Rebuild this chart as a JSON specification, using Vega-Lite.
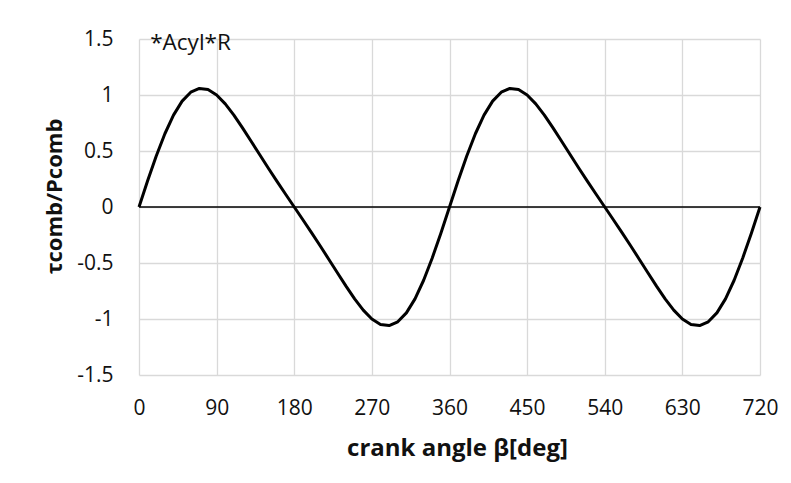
{
  "$schema": "https://vega.github.io/schema/vega-lite/v6.json",
  "width": 621,
  "height": 336,
  "autosize": {"type": "none"},
  "padding": {"left": 139, "top": 39, "right": 31, "bottom": 108},
  "background": "white",
  "config": {"view": {"stroke": null}, "font": "Open Sans"},
  "layer": [
    {
      "data": {"values": [{}]},
      "mark": {"type": "rule", "color": "black", "strokeWidth": 1.5},
      "encoding": {"y": {"datum": 0, "type": "quantitative", "scale": {"domain": [-1.5, 1.5]}}}
    },
    {
      "data": {"values": [
        {"angle": 0, "value": 0}, {"angle": 10, "value": 0.234}, {"angle": 20, "value": 0.455},
        {"angle": 30, "value": 0.654}, {"angle": 40, "value": 0.820}, {"angle": 50, "value": 0.945},
        {"angle": 60, "value": 1.025}, {"angle": 70, "value": 1.059}, {"angle": 80, "value": 1.049},
        {"angle": 90, "value": 1.0}, {"angle": 100, "value": 0.921}, {"angle": 110, "value": 0.821},
        {"angle": 120, "value": 0.707}, {"angle": 130, "value": 0.587}, {"angle": 140, "value": 0.466},
        {"angle": 150, "value": 0.346}, {"angle": 160, "value": 0.229}, {"angle": 170, "value": 0.114},
        {"angle": 180, "value": 0}, {"angle": 190, "value": -0.114}, {"angle": 200, "value": -0.229},
        {"angle": 210, "value": -0.346}, {"angle": 220, "value": -0.466}, {"angle": 230, "value": -0.587},
        {"angle": 240, "value": -0.707}, {"angle": 250, "value": -0.821}, {"angle": 260, "value": -0.921},
        {"angle": 270, "value": -1.0}, {"angle": 280, "value": -1.049}, {"angle": 290, "value": -1.059},
        {"angle": 300, "value": -1.025}, {"angle": 310, "value": -0.945}, {"angle": 320, "value": -0.820},
        {"angle": 330, "value": -0.654}, {"angle": 340, "value": -0.455}, {"angle": 350, "value": -0.234},
        {"angle": 360, "value": 0}, {"angle": 370, "value": 0.234}, {"angle": 380, "value": 0.455},
        {"angle": 390, "value": 0.654}, {"angle": 400, "value": 0.820}, {"angle": 410, "value": 0.945},
        {"angle": 420, "value": 1.025}, {"angle": 430, "value": 1.059}, {"angle": 440, "value": 1.049},
        {"angle": 450, "value": 1.0}, {"angle": 460, "value": 0.921}, {"angle": 470, "value": 0.821},
        {"angle": 480, "value": 0.707}, {"angle": 490, "value": 0.587}, {"angle": 500, "value": 0.466},
        {"angle": 510, "value": 0.346}, {"angle": 520, "value": 0.229}, {"angle": 530, "value": 0.114},
        {"angle": 540, "value": 0}, {"angle": 550, "value": -0.114}, {"angle": 560, "value": -0.229},
        {"angle": 570, "value": -0.346}, {"angle": 580, "value": -0.466}, {"angle": 590, "value": -0.587},
        {"angle": 600, "value": -0.707}, {"angle": 610, "value": -0.821}, {"angle": 620, "value": -0.921},
        {"angle": 630, "value": -1.0}, {"angle": 640, "value": -1.049}, {"angle": 650, "value": -1.059},
        {"angle": 660, "value": -1.025}, {"angle": 670, "value": -0.945}, {"angle": 680, "value": -0.820},
        {"angle": 690, "value": -0.654}, {"angle": 700, "value": -0.455}, {"angle": 710, "value": -0.234},
        {"angle": 720, "value": 0}
      ]},
      "mark": {"type": "line", "color": "black", "strokeWidth": 3, "strokeJoin": "round"},
      "encoding": {
        "x": {
          "field": "angle", "type": "quantitative",
          "scale": {"domain": [0, 720], "nice": false},
          "axis": {
            "values": [0, 90, 180, 270, 360, 450, 540, 630, 720],
            "grid": true, "gridColor": "#d9d9d9", "gridWidth": 1.3,
            "domain": false, "ticks": false, "tickSize": 0,
            "labelFontSize": 21, "labelColor": "#111", "labelPadding": 22,
            "labelFlush": false,
            "title": "crank angle β[deg]", "titleFontSize": 24, "titleFontWeight": "bold",
            "titleColor": "#111", "titleX": 318, "titleAlign": "center", "titleY": 73, "titleBaseline": "middle"
          }
        },
        "y": {
          "field": "value", "type": "quantitative",
          "scale": {"domain": [-1.5, 1.5], "nice": false},
          "axis": {
            "values": [-1.5, -1, -0.5, 0, 0.5, 1, 1.5],
            "labelExpr": "toString(datum.value)",
            "grid": true, "gridColor": "#d9d9d9", "gridWidth": 1.3,
            "domain": false, "ticks": false, "tickSize": 0,
            "labelFontSize": 21, "labelColor": "#111", "labelPadding": 26,
            "labelFlush": false,
            "title": "τcomb/Pcomb", "titleFontSize": 22, "titleFontWeight": "bold",
            "titleColor": "#111", "titleAngle": -90, "titleX": -85, "titleY": 157,
            "titleAlign": "center", "titleBaseline": "middle"
          }
        }
      }
    },
    {
      "data": {"values": [{"label": "*Acyl*R", "angle": 13, "value": 1.46}]},
      "mark": {"type": "text", "align": "left", "baseline": "middle", "fontSize": 22.5, "color": "#111"},
      "encoding": {
        "x": {"field": "angle", "type": "quantitative"},
        "y": {"field": "value", "type": "quantitative"},
        "text": {"field": "label"}
      }
    }
  ]
}
